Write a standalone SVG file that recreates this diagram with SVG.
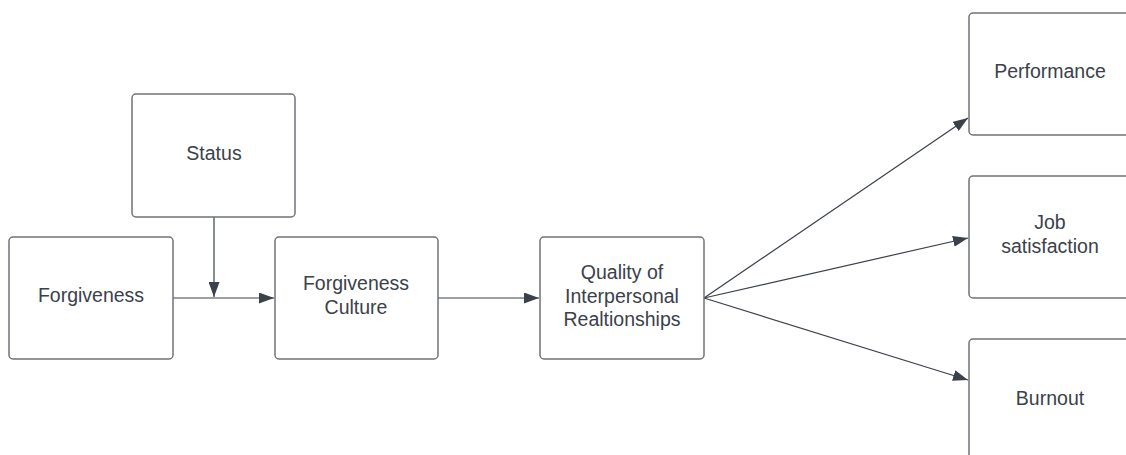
<svg xmlns="http://www.w3.org/2000/svg" width="1126" height="455" viewBox="0 0 1126 455">
<style>
.box{fill:#ffffff;stroke:#6f737a;stroke-width:1.5}
.lbl{font-family:"Liberation Sans",Arial,sans-serif;font-size:19.5px;fill:#3a414a;text-anchor:middle}
.con{fill:none;stroke:#3a414a;stroke-width:1.2}
</style>
<defs>
<marker id="arr" viewBox="0 0 15 11" refX="15" refY="5.5" markerWidth="15" markerHeight="11" markerUnits="userSpaceOnUse" orient="auto">
<path d="M0,0 L15,5.5 L0,11 Z" fill="#3a414a"/>
</marker>
</defs>
<rect width="1126" height="455" fill="#ffffff"/>
<g id="connectors">
<line class="con" x1="173" y1="298" x2="274" y2="298" marker-end="url(#arr)"/>
<line class="con" x1="214" y1="217" x2="214" y2="297" marker-end="url(#arr)"/>
<line class="con" x1="438" y1="298" x2="539" y2="298" marker-end="url(#arr)"/>
<line class="con" x1="704" y1="298" x2="968" y2="118" marker-end="url(#arr)"/>
<line class="con" x1="704" y1="298" x2="968" y2="238" marker-end="url(#arr)"/>
<line class="con" x1="704" y1="298" x2="968" y2="380" marker-end="url(#arr)"/>
</g>
<g id="status">
<rect class="box" x="132" y="94" width="163" height="123" rx="4"/>
<text class="lbl" x="214" y="160">Status</text>
</g>
<g id="forgiveness">
<rect class="box" x="9" y="237" width="164" height="122" rx="4"/>
<text class="lbl" x="91" y="302">Forgiveness</text>
</g>
<g id="forgiveness-culture">
<rect class="box" x="275" y="237" width="163" height="122" rx="4"/>
<text class="lbl" x="356" y="290">Forgiveness</text>
<text class="lbl" x="356" y="314">Culture</text>
</g>
<g id="quality">
<rect class="box" x="540" y="237" width="164" height="122" rx="4"/>
<text class="lbl" x="622" y="279">Quality of</text>
<text class="lbl" x="622" y="303">Interpersonal</text>
<text class="lbl" x="622" y="326">Realtionships</text>
</g>
<g id="performance">
<rect class="box" x="969" y="13" width="163" height="122" rx="4"/>
<text class="lbl" x="1050" y="78">Performance</text>
</g>
<g id="job-satisfaction">
<rect class="box" x="969" y="176" width="163" height="122" rx="4"/>
<text class="lbl" x="1050" y="229">Job</text>
<text class="lbl" x="1050" y="253">satisfaction</text>
</g>
<g id="burnout">
<rect class="box" x="969" y="339" width="163" height="122" rx="4"/>
<text class="lbl" x="1050" y="405">Burnout</text>
</g>
</svg>
